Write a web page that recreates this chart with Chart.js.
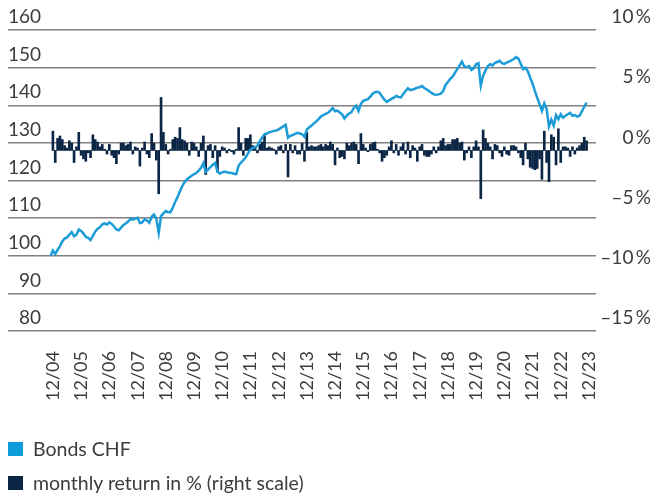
<!DOCTYPE html>
<html>
<head>
<meta charset="utf-8">
<script src="https://cdn.jsdelivr.net/npm/chart.js@4.4.1/dist/chart.umd.min.js"></script>
<style>
  html, body { margin: 0; padding: 0; background: #fff; }
  #wrap { position: relative; width: 651px; height: 494px; }
  #chart { position: absolute; left: 0; top: 0; }
  .legend { position: absolute; left: 8px; font-family: Lato, sans-serif; font-size: 19.5px; color: #3c3c3c; display: flex; align-items: center; line-height: 19px; }
  .legend .box { display: inline-block; width: 15px; height: 14px; margin-right: 10px; }
</style>
</head>
<body>
<div id="wrap">
  <canvas id="chart" width="651" height="494"></canvas>
  <div class="legend" style="top:439px"><span class="box" style="background:#0d9ddb"></span>Bonds CHF</div>
  <div class="legend" style="top:473px"><span class="box" style="background:#0b2545"></span>monthly return in % (right scale)</div>
</div>
<script>
// tick labels (one per December)
const yearLabels = ['12/04', '12/05', '12/06', '12/07', '12/08', '12/09', '12/10', '12/11', '12/12', '12/13',
    '12/14', '12/15', '12/16', '12/17', '12/18', '12/19', '12/20', '12/21', '12/22', '12/23'];

// Bonds CHF index, monthly, 12/04 = 100 (left scale)
const bondsChf = [
    100.0,
    101.4, 100.5, 101.6, 102.6, 103.8, 104.6, 104.9, 105.6, 106.3, 105.2, 105.6, 107.0, // 2005
    106.6, 105.9, 105.0, 104.8, 104.2, 105.3, 106.4, 107.2, 107.6, 108.4, 108.6, 108.3, // 2006
    108.9, 108.5, 107.8, 107.0, 106.8, 107.5, 108.2, 108.6, 109.1, 109.8, 109.6, 109.9, // 2007
    110.1, 108.7, 108.9, 109.7, 109.4, 108.8, 110.4, 111.0, 109.9, 106.1, 110.6, 111.3, // 2008
    111.9, 111.6, 111.6, 112.8, 114.3, 115.6, 117.1, 118.5, 119.6, 120.3, 120.8, 121.3, // 2009
    121.7, 122.0, 122.6, 123.4, 124.6, 122.3, 122.9, 123.6, 124.2, 124.7, 122.4, 121.8, // 2010
    122.2, 122.4, 122.2, 122.1, 122.0, 121.8, 121.7, 124.0, 124.8, 125.4, 126.2, 127.2, // 2011
    128.2, 128.6, 128.9, 129.2, 130.5, 131.4, 132.3, 132.5, 132.8, 133.0, 133.2, 133.3, // 2012
    133.6, 134.0, 134.4, 134.8, 131.4, 131.9, 132.1, 132.4, 132.7, 132.5, 132.3, 131.6, // 2013
    133.6, 134.1, 134.6, 135.2, 135.7, 136.3, 137.0, 137.4, 137.7, 138.0, 138.6, 139.3, // 2014
    138.4, 138.6, 138.1, 137.6, 136.5, 137.3, 137.8, 138.2, 139.3, 139.9, 138.5, 140.4, // 2015
    141.2, 141.4, 141.6, 142.3, 143.1, 143.5, 143.6, 143.3, 142.3, 141.5, 140.9, 141.3, // 2016
    141.7, 142.0, 142.5, 142.2, 142.1, 143.0, 143.8, 144.5, 144.0, 144.2, 144.4, 144.7, // 2017
    144.8, 145.1, 144.6, 144.2, 143.8, 143.3, 142.9, 142.8, 142.9, 143.1, 143.8, 145.4, // 2018
    146.2, 147.0, 147.6, 148.6, 149.6, 150.6, 151.6, 150.3, 150.1, 150.4, 149.4, 149.8, // 2019
    150.9, 151.2, 145.2, 147.9, 149.2, 150.4, 150.9, 150.6, 151.3, 151.5, 151.8, 151.2, // 2020
    151.0, 151.3, 151.6, 151.9, 152.3, 152.8, 152.4, 151.0, 149.6, 150.0, 149.0, 147.3, // 2021
    145.8, 143.8, 142.0, 140.3, 138.5, 140.5, 139.0, 134.4, 136.2, 134.6, 137.4, 136.3, // 2022
    137.6, 136.7, 137.2, 137.6, 138.0, 137.2, 137.4, 137.0, 137.2, 138.4, 139.6, 140.7  // 2023
];

// monthly return in % (right scale)
const monthlyReturn = [
    null,
    1.6, -1.0, 1.0, 1.2, 0.9, 0.4, 0.2, 0.8, 0.6, -1.0, 0.3, 1.5,
    -0.4, -0.7, -0.9, -0.2, -0.6, 1.3, 0.9, 0.7, 0.3, 0.5, 0.1, -0.3,
    0.5, -0.4, -0.6, -1.1, -0.3, 0.6, 0.6, 0.4, 0.5, 0.7, -0.3, 0.3,
    0.2, -1.3, 0.2, 0.7, -0.3, -0.6, 1.4, 0.6, -0.8, -3.6, 4.4, 1.5,
    0.5, -0.3, 0.1, 0.9, 1.1, 1.0, 1.9, 0.9, 0.8, 0.6, -0.4, 0.7,
    0.6, 0.3, -0.5, 0.6, 1.2, -2.0, 0.4, 0.5, -0.6, 0.4, -1.8, -0.5,
    0.3, 0.2, -0.2, 0.1, -0.1, -0.3, 0.1, 1.9, 0.6, -0.4, 1.0, 1.0,
    1.3, 0.4, 0.3, -0.2, 0.5, 0.7, 1.3, 0.2, 0.3, 0.2, 0.1, -0.3,
    0.3, 0.4, -0.2, 0.5, -2.2, 0.5, -0.2, 0.4, -0.3, -0.3, 0.6, -0.9,
    1.5, 0.3, 0.4, 0.3, 0.3, 0.4, 0.5, 0.3, 0.5, 0.4, 0.7, 0.5,
    -1.2, 0.2, -0.6, -0.5, -0.7, 0.6, 0.4, 0.6, 0.7, 0.5, -1.1, 1.4,
    0.5, 0.2, -0.1, 0.5, 0.6, 0.7, 0.1, -0.2, -0.9, -0.6, -0.4, 0.3,
    0.8, -0.2, 0.5, -0.4, 0.3, 0.6, -0.3, 0.7, -0.6, 0.4, 0.2, -0.9,
    0.3, 0.5, -0.4, -0.5, -0.5, -0.3, 0.3, -0.2, 0.3, 0.8, 1.0, 0.4,
    0.5, 0.5, 0.9, 0.9, 1.0, 0.6, 0.7, -0.8, -0.2, 0.3, -0.6, 0.3,
    0.8, 0.3, -4.0, 1.7, 1.0, 0.6, 0.3, -0.7, 0.5, 0.4, -0.2, -0.5,
    0.3, -0.3, -0.4, 0.4, 0.4, 0.3, -0.2, -0.6, -1.2, 0.6, -0.7, -1.4,
    -1.5, -1.6, -1.5, -0.7, -2.4, 1.6, -1.0, -2.6, 1.3, 1.1, -1.2, 1.8,
    -1.0, 0.3, 0.3, 0.2, -0.5, 0.3, -0.3, 0.2, 0.4, 0.6, 1.1, 0.8
];

const monthIndex = bondsChf.map((v, k) => k);

const fontFam = 'Lato, sans-serif';
const textColor = '#3c3c3c';

const ctx = document.getElementById('chart');
const myChart = new Chart(ctx, {
    type: 'bar',
    data: {
        labels: monthIndex,
        datasets: [{
            type: 'line',
            label: 'Bonds CHF',
            data: bondsChf,
            yAxisID: 'y',
            borderColor: '#1b9bd7',
            borderWidth: 2.5,
            pointRadius: 0,
            order: 0
        }, {
            type: 'bar',
            label: 'monthly return in % (right scale)',
            data: monthlyReturn,
            yAxisID: 'y1',
            backgroundColor: '#0b2545',
            barThickness: 2,
            order: 1
        }]
    },
    options: {
        responsive: false,
        animation: false,
        devicePixelRatio: 1,
        layout: {
            padding: { left: 8, right: 0, top: 30, bottom: 73 }
        },
        plugins: {
            legend: { display: false },
            tooltip: { enabled: false }
        },
        scales: {
            x: {
                type: 'linear',
                min: -18.1,
                max: 232,
                offset: false,
                grid: { display: false, drawTicks: false },
                border: { display: false },
                afterBuildTicks: (axis) => {
                    axis.ticks = yearLabels.map((l, k) => ({ value: k * 12 }));
                },
                ticks: {
                    autoSkip: false,
                    minRotation: 90,
                    maxRotation: 90,
                    padding: 20,
                    labelOffset: 2.5,
                    color: textColor,
                    font: { family: fontFam, size: 18 },
                    callback: (v) => yearLabels[Math.round(v / 12)]
                }
            },
            y: {
                position: 'left',
                min: 80,
                max: 160,
                grid: { color: '#808080', lineWidth: 1.5, drawTicks: false },
                border: { display: false },
                ticks: {
                    stepSize: 10,
                    mirror: true,
                    crossAlign: 'far',
                    padding: 0,
                    labelOffset: -13,
                    color: textColor,
                    font: { family: fontFam, size: 19 }
                }
            },
            y1: {
                position: 'right',
                min: -15,
                max: 10,
                grid: { display: false, drawTicks: false },
                border: { display: false },
                afterFit: (axis) => { axis.width = 55; },
                ticks: {
                    stepSize: 5,
                    crossAlign: 'far',
                    padding: 2,
                    labelOffset: -13,
                    color: textColor,
                    font: { family: fontFam, size: 19 },
                    callback: (v) => (v < 0 ? '\u2013' + (-v) : v) + '\u2009%'
                }
            }
        }
    }
});
</script>
</body>
</html>
